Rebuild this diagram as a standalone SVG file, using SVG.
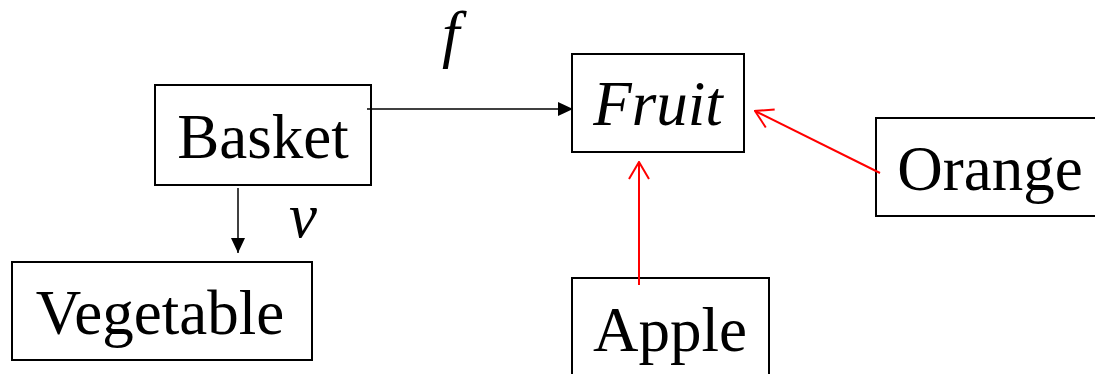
<svg xmlns="http://www.w3.org/2000/svg" width="1095" height="374" viewBox="0 0 1095 374">
<style>
.box{fill:#fff;stroke:#000;stroke-width:2}
.t{font-size:63px;fill:#000}
.i{font-style:italic}
.blk{stroke:#000;stroke-width:1.5;fill:none}
.red{stroke:#f00;stroke-width:2;fill:none}
</style>
<defs>
<marker id="ah" markerWidth="15" markerHeight="14" refX="15" refY="7" orient="auto" markerUnits="userSpaceOnUse">
<path d="M0,0 L15,7 L0,14 Z" fill="#000"/>
</marker>
<marker id="oh" markerWidth="19" markerHeight="24" refX="18" refY="12" orient="auto" markerUnits="userSpaceOnUse">
<path d="M1,2 L18,12 L1,22" fill="none" stroke="#f00" stroke-width="2"/>
</marker>
</defs>
<g font-family="Liberation Serif">
<g id="basket"><rect class="box" x="155" y="85" width="216" height="100"/><text class="t" x="263" y="158" text-anchor="middle">Basket</text></g>
<g id="fruit"><rect class="box" x="572" y="54" width="172" height="98"/><text class="t i" x="658" y="125" text-anchor="middle">Fruit</text></g>
<g id="orange"><rect class="box" x="876" y="118" width="225" height="98"/><text class="t" x="990" y="190" text-anchor="middle">Orange</text></g>
<g id="vegetable"><rect class="box" x="12" y="262" width="300" height="98"/><text class="t" x="160" y="334" text-anchor="middle">Vegetable</text></g>
<g id="apple"><rect class="box" x="572" y="278" width="197" height="110"/><text class="t" x="670" y="351" text-anchor="middle">Apple</text></g>
<g id="connectors">
<line class="blk" x1="367" y1="109" x2="573" y2="109" marker-end="url(#ah)"/>
<text class="t i" x="442" y="55">f</text>
<line class="blk" x1="238" y1="188" x2="238" y2="253" marker-end="url(#ah)"/>
<text class="t i" x="289" y="237">v</text>
<line class="red" x1="880" y1="173" x2="755" y2="111" marker-end="url(#oh)"/>
<line class="red" x1="639" y1="285" x2="639" y2="162" marker-end="url(#oh)"/>
</g>
</g>
</svg>
